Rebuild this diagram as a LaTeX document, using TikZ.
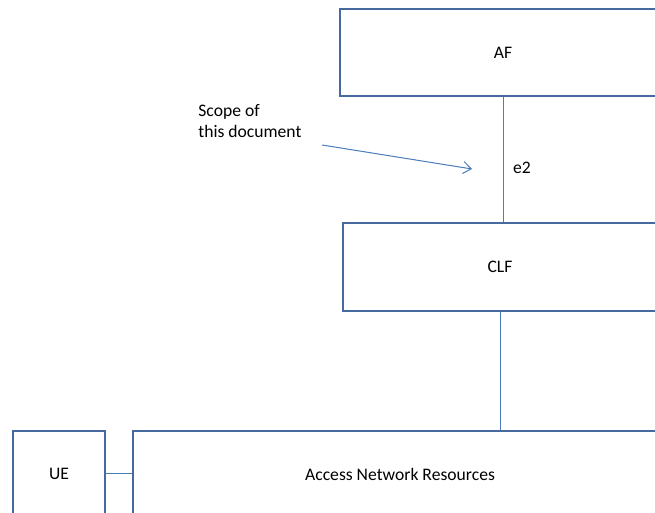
\documentclass[tikz,border=0pt]{standalone}
\usepackage{fontspec}
\setmainfont{Carlito}
\usetikzlibrary{arrows.meta}
\definecolor{boxblue}{RGB}{70,106,160}
\definecolor{lineblue}{RGB}{74,126,187}
\tikzset{
  fn/.style={draw=boxblue,line width=1pt,inner sep=0pt,font=\fontsize{8.8}{10.6}\selectfont},
  ln/.style={draw=lineblue,line width=0.5pt}
}

\begin{document}
\begin{tikzpicture}[x=0.5pt,y=-0.5pt]
            \useasboundingbox (0,0) rectangle (655,513);
            \clip (0,0) rectangle (655,513);
            \node[fn,minimum width=163pt,minimum height=43.5pt] at (503,52.5) (af) {AF};
            \node[fn,minimum width=157pt,minimum height=44pt] at (500,267) (clf) {CLF};
            \node[fn,minimum width=46pt,minimum height=43pt] at (59,474) (ue) {UE};
            \node[fn,minimum width=267pt,minimum height=43pt] at (400,474) (anr) {Access Network Resources};
            \node[font=\fontsize{8.8}{10.6}\selectfont,align=left,anchor=north west,inner sep=0pt] at (198,104) (scope) {Scope of\\this document};
            \node[font=\fontsize{8.8}{10.6}\selectfont] at (522,168) (e) {e2};
            \coordinate (s) at (322,145);
            \coordinate (t) at (472,169);
            \draw[ln] (af) to (af |- clf.north);
            \draw[ln] (clf) to (clf |- anr.north);
            \draw[ln] (ue) to (anr);
            \draw[ln,-{Straight Barb[length=4pt,width=6pt]}] (s) to (t);
        \end{tikzpicture}
\end{document}
